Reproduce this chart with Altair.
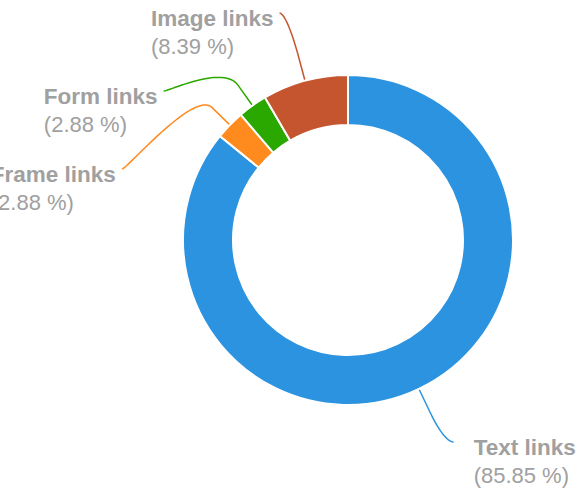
import math
import altair as alt
import pandas as pd

# ---- data ----
categories = ["Text links", "Frame links", "Form links", "Image links"]
shares = [85.85, 2.88, 2.88, 8.39]
pct_labels = ["(85.85 %)", "(2.88 %)", "(2.88 %)", "(8.39 %)"]
colors = ["#2b93df", "#ff8a1e", "#2ba800", "#c4552f"]

# ---- layout constants ----
W, H = 579, 488
CX, CY = 348, 240
R_OUT, R_IN = 165, 115
R_BREAK = 190
R_LABEL_Y = 235
R_LABEL_X = 237
SLOT = 78
Y_MIN, Y_MAX = 10, 442
PAD_L, PAD_R = 6, 20
FONT = "Liberation Sans"
FS_BOLD = 22.5
FS = 22
TEXT_COLOR = "#a0a0a0"

# Liberation Sans Bold advance widths (per 1000 em) for left-edge estimation
BOLD_W = {"I": 278, "m": 889, "a": 556, "g": 611, "e": 556, " ": 278, "l": 278,
          "i": 278, "n": 611, "k": 556, "s": 556, "F": 611, "o": 611, "r": 389,
          "T": 611, "x": 556, "t": 333}


def bold_width(txt):
    return sum(BOLD_W.get(ch, 556) for ch in txt) * FS_BOLD / 1000.0


total = sum(shares)
cum = 0.0
info = []
for i, (cat, s) in enumerate(zip(categories, shares)):
    a0 = cum / total * 2 * math.pi
    cum += s
    a1 = cum / total * 2 * math.pi
    mid = (a0 + a1) / 2
    left = math.sin(mid) < 0
    nat_y = CY - R_LABEL_Y * math.cos(mid)
    info.append({"i": i, "cat": cat, "mid": mid, "left": left, "nat_y": nat_y})

# distribute labels vertically on each side
for side in (True, False):
    items = sorted([d for d in info if d["left"] == side], key=lambda d: d["nat_y"])
    prev = None
    for d in items:
        y = max(d["nat_y"], Y_MIN)
        if prev is not None:
            y = max(y, prev + SLOT)
        d["ly"] = y
        d["y_for_x"] = y
        prev = y
    if items and items[-1]["ly"] > Y_MAX:
        shift = items[-1]["ly"] - Y_MAX
        for d in items:
            d["ly"] -= shift

for d in info:
    dy = d["y_for_x"] - CY
    off = math.sqrt(max(R_LABEL_X ** 2 - dy ** 2, 0))
    d["lx"] = CX - off if d["left"] else CX + off

# connectors (soft connector: cubic curve to break point, then straight to slice)
line_rows = []
for d in info:
    m = d["mid"]
    sx, sy = d["lx"], d["ly"]
    c1x, c1y = sx + (5 if d["left"] else -5), sy
    ex, ey = CX + R_BREAK * math.sin(m), CY - R_BREAK * math.cos(m)
    tx, ty = CX + R_OUT * math.sin(m), CY - R_OUT * math.cos(m)
    c2x, c2y = 2 * ex - tx, 2 * ey - ty
    n = 24
    for k in range(n + 1):
        t = k / n
        b0, b1, b2, b3 = (1 - t) ** 3, 3 * (1 - t) ** 2 * t, 3 * (1 - t) * t ** 2, t ** 3
        line_rows.append({"category": d["cat"], "seq": k,
                          "px": b0 * sx + b1 * c1x + b2 * c2x + b3 * ex,
                          "py": b0 * sy + b1 * c1y + b2 * c2y + b3 * ey})
    line_rows.append({"category": d["cat"], "seq": n + 1, "px": tx, "py": ty})
line_df = pd.DataFrame(line_rows)

label_rows = []
for d in info:
    if d["left"]:
        x_left = d["lx"] - PAD_L - bold_width(d["cat"])
    else:
        x_left = d["lx"] + PAD_R
    label_rows.append({"category": d["cat"], "pct": pct_labels[d["i"]],
                       "tx": x_left, "ty1": d["ly"] + 6, "ty2": d["ly"] + 34})
label_df = pd.DataFrame(label_rows)

arc_df = pd.DataFrame({"category": categories, "share": shares, "idx": list(range(len(categories)))})

color_scale = alt.Scale(domain=categories, range=colors)
xs = alt.Scale(domain=[0, W], nice=False, zero=False)
ys = alt.Scale(domain=[0, H], nice=False, zero=False, reverse=True)

arcs = alt.Chart(arc_df).mark_arc(
    outerRadius=R_OUT, innerRadius=R_IN, stroke="white", strokeWidth=2
).encode(
    theta=alt.Theta("share:Q", stack=True),
    color=alt.Color("category:N", scale=color_scale, legend=None),
    order=alt.Order("idx:Q"),
    x=alt.value(CX),
    y=alt.value(CY),
)

lines = alt.Chart(line_df).mark_line(strokeWidth=1.5).encode(
    x=alt.X("px:Q", scale=xs, axis=None),
    y=alt.Y("py:Q", scale=ys, axis=None),
    color=alt.Color("category:N", scale=color_scale, legend=None),
    detail="category:N",
    order="seq:Q",
)

title_text = alt.Chart(label_df).mark_text(
    align="left", baseline="middle", font=FONT, fontSize=FS_BOLD, fontWeight="bold", color=TEXT_COLOR
).encode(
    x=alt.X("tx:Q", scale=xs, axis=None),
    y=alt.Y("ty1:Q", scale=ys, axis=None),
    text="category:N",
)

pct_text = alt.Chart(label_df).mark_text(
    align="left", baseline="middle", font=FONT, fontSize=FS, color=TEXT_COLOR
).encode(
    x=alt.X("tx:Q", scale=xs, axis=None),
    y=alt.Y("ty2:Q", scale=ys, axis=None),
    text="pct:N",
)

chart = alt.layer(lines, arcs, title_text, pct_text).properties(
    width=W, height=H, padding=0, autosize=alt.AutoSizeParams(type="none"),
    background="white",
).configure_view(stroke=None)

chart.save("out.html", embed_options={"renderer": "svg", "actions": False})
